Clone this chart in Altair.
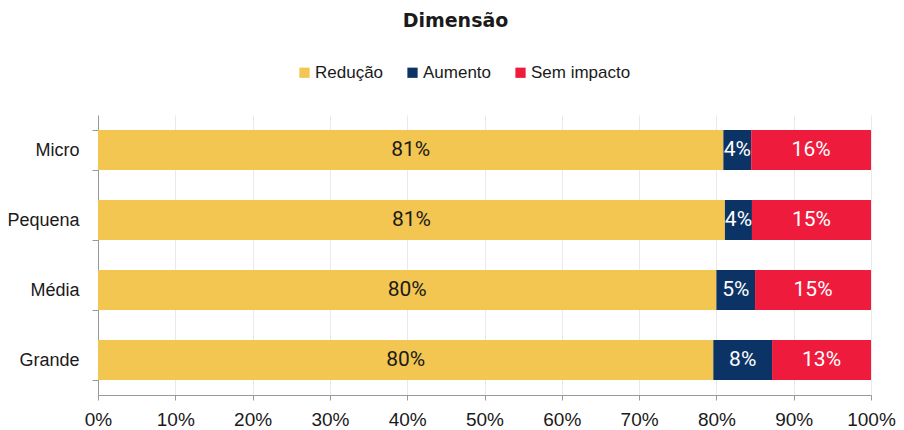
import altair as alt
import pandas as pd

categories = ["Micro", "Pequena", "Média", "Grande"]
series = ["Redução", "Aumento", "Sem impacto"]
reducao = [80.9, 81.1, 80.0, 79.6]
aumento = [3.6, 3.5, 5.0, 7.6]
sem_impacto = [15.5, 15.4, 15.0, 12.8]
colors = ["#F2C651", "#0B3366", "#EE1B3C"]
label_colors = ["#1A1A1A", "#FFFFFF", "#FFFFFF"]

rows = []
for i, c in enumerate(categories):
    for j, (s, vals) in enumerate(zip(series, [reducao, aumento, sem_impacto])):
        rows.append({"cat": c, "serie": s, "value": vals[i], "idx": j, "lc": label_colors[j]})
df = pd.DataFrame(rows)

yscale = alt.Scale(domain=categories, paddingInner=0.4286, paddingOuter=0.2143)
xscale = alt.Scale(domain=[0, 100], nice=False)

base = alt.Chart(df)

bars = base.mark_bar().encode(
    x=alt.X("value:Q", stack="zero", scale=xscale, title=None,
            axis=alt.Axis(values=list(range(0, 101, 10)), labelExpr="datum.value + '%'",
                          domainColor="#999999", tickColor="#999999", tickSize=5,
                          grid=True, gridColor="#E9E9E9", labelFont="Liberation Sans",
                          labelFontSize=19, labelColor="#1A1A1A", labelPadding=10,
                          labelFlush=False)),
    y=alt.Y("cat:N", sort=categories, scale=yscale, title=None,
            axis=alt.Axis(tickBand="extent", domainColor="#999999", tickColor="#999999",
                          tickSize=6, labelPadding=13, labelFont="Liberation Sans",
                          labelFontSize=18, labelColor="#1A1A1A", grid=False)),
    color=alt.Color("serie:N", sort=series, scale=alt.Scale(domain=series, range=colors),
                    legend=alt.Legend(title=None, orient="none", direction="horizontal",
                                      legendX=198, legendY=-51, symbolType="square",
                                      symbolSize=105, symbolStrokeWidth=0,
                                      labelFont="Liberation Sans", labelFontSize=17,
                                      labelColor="#1A1A1A", columnPadding=20,
                                      labelOffset=2)),
    order=alt.Order("idx:Q"),
)

labels = base.transform_stack(
    stack="value", groupby=["cat"], as_=["x0", "x1"],
    sort=[alt.SortField("idx", order="ascending")]
).transform_calculate(
    mid="(datum.x0 + datum.x1) / 2",
    lbl="format(datum.value, '.0f') + '%'"
).mark_text(font="Roboto", fontSize=21).encode(
    x=alt.X("mid:Q", scale=xscale, title=None),
    y=alt.Y("cat:N", sort=categories, scale=yscale, title=None),
    text="lbl:N",
    color=alt.Color("lc:N", scale=None),
)

chart = alt.layer(bars, labels).properties(
    width=773, height=280,
    autosize=alt.AutoSizeParams(type="none"),
    padding={"left": 90, "top": 107, "right": 25, "bottom": 33},
    title=alt.TitleParams("Dimensão", fontSize=19, fontWeight="bold", font="DejaVu Sans",
                          anchor="middle", frame="group", offset=33, dx=-29, color="#1A1A1A"),
).configure_view(stroke=None)

chart.save("out.html", embed_options={"renderer": "svg", "actions": False})
